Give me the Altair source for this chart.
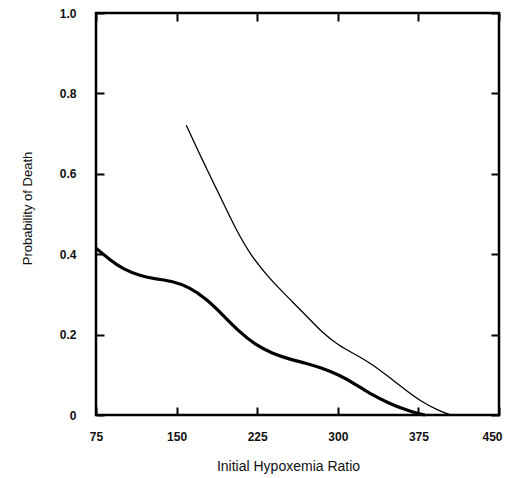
import altair as alt
import pandas as pd

# Thick curve
thick_x = [75, 88, 100, 116, 131, 146, 162, 178, 193, 208, 223, 239, 255, 270, 285, 301, 317, 331, 347, 363, 375, 381]
thick_y = [0.415, 0.386, 0.363, 0.346, 0.338, 0.333, 0.318, 0.288, 0.249, 0.208, 0.175, 0.153, 0.139, 0.129, 0.117, 0.100, 0.076, 0.051, 0.030, 0.013, 0.003, 0.0]

# Thin curve
thin_x = [159, 174, 190, 205, 220, 236, 252, 270, 285, 301, 317, 331, 347, 363, 378, 393, 405]
thin_y = [0.721, 0.634, 0.547, 0.462, 0.393, 0.341, 0.297, 0.249, 0.206, 0.172, 0.150, 0.128, 0.096, 0.062, 0.033, 0.012, 0.0]

x_ticks = [75, 150, 225, 300, 375, 450]
y_ticks = [0, 0.2, 0.4, 0.6, 0.8, 1.0]

thick = pd.DataFrame({"x": thick_x, "y": thick_y})
thin = pd.DataFrame({"x": thin_x, "y": thin_y})

FONT = "Liberation Sans"
xs = alt.Scale(domain=[75, 450], nice=False, zero=False)
ys = alt.Scale(domain=[0, 1], nice=False)

thick_line = alt.Chart(thick).mark_line(
    color="black", strokeWidth=3.2, interpolate="basis"
).encode(
    x=alt.X("x:Q", scale=xs, axis=alt.Axis(
        orient="bottom", values=x_ticks, title="Initial Hypoxemia Ratio",
        offset=-8, tickSize=8, tickWidth=2, tickColor="black", domain=False, grid=False,
        labelPadding=16, labelFontSize=12, labelFont=FONT, labelFontWeight="bold",
        labelColor="#111", titleFont=FONT, titleFontSize=14, titleFontWeight="normal",
        titleColor="#111", titlePadding=17, titleX=192, labelFlush=False,
        labelOffset={"condition": {"test": "datum.value == 450", "value": -7}, "value": 0})),
    y=alt.Y("y:Q", scale=ys, axis=alt.Axis(
        orient="left", values=y_ticks, title="Probability of Death",
        offset=-8, tickSize=8, tickWidth=2, tickColor="black", domain=False, grid=False,
        labelPadding=20, labelFontSize=12, labelFont=FONT, labelFontWeight="bold",
        labelColor="#111", titleFont=FONT, titleFontSize=13, titleFontWeight="normal",
        titleColor="#111", titlePadding=25, titleY=195, labelFlush=False,
        labelExpr="datum.value == 0 ? '0' : format(datum.value, '.1f')")),
)

thin_line = alt.Chart(thin).mark_line(
    color="black", strokeWidth=1.3, interpolate="basis"
).encode(
    x=alt.X("x:Q", scale=xs, axis=alt.Axis(
        orient="top", values=x_ticks, title=None, labels=False,
        offset=-8, tickSize=8, tickWidth=2, tickColor="black", domain=False, grid=False)),
    y=alt.Y("y:Q", scale=ys, axis=alt.Axis(
        orient="right", values=y_ticks, title=None, labels=False,
        offset=-8, tickSize=8, tickWidth=2, tickColor="black", domain=False, grid=False)),
)

chart = alt.layer(thick_line, thin_line).properties(
    width=403, height=402,
    autosize=alt.AutoSizeParams(type="none"),
    padding={"left": 88, "top": 5, "right": 5, "bottom": 60},
    background="white",
).configure_view(stroke="black", strokeWidth=2.5)

chart.save("out.html", embed_options={"renderer": "svg", "actions": False})
